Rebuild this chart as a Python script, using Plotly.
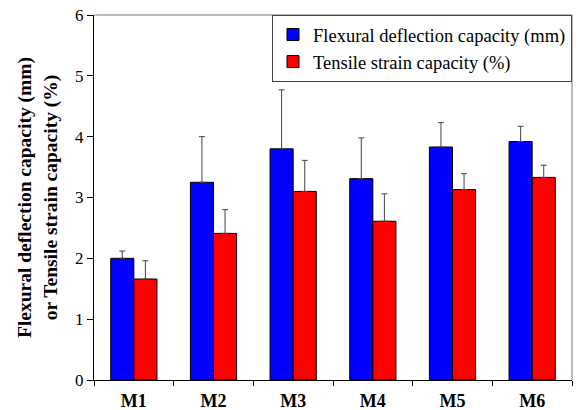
import plotly.graph_objects as go

categories = ["M1", "M2", "M3", "M4", "M5", "M6"]
flexural = [2.00, 3.25, 3.80, 3.31, 3.83, 3.92]
flexural_err = [0.12, 0.75, 0.97, 0.67, 0.40, 0.25]
tensile = [1.66, 2.41, 3.10, 2.61, 3.13, 3.33]
tensile_err = [0.30, 0.39, 0.51, 0.45, 0.26, 0.20]
y_ticks = [0, 1, 2, 3, 4, 5, 6]

FONT = "Liberation Serif, Times New Roman, serif"

fig = go.Figure()
fig.add_trace(go.Bar(
    x=categories, y=flexural, name="Flexural deflection capacity (mm)",
    marker=dict(color="#0000FF", line=dict(color="black", width=1)),
    error_y=dict(type="data", array=flexural_err, arrayminus=[0]*6, symmetric=False,
                 color="#444444", thickness=1, width=3),
))
fig.add_trace(go.Bar(
    x=categories, y=tensile, name="Tensile strain capacity (%)",
    marker=dict(color="#FF0000", line=dict(color="black", width=1)),
    error_y=dict(type="data", array=tensile_err, arrayminus=[0]*6, symmetric=False,
                 color="#444444", thickness=1, width=3),
))

fig.update_layout(
    width=578, height=410,
    margin=dict(l=94, r=6, t=15, b=30, autoexpand=False),
    paper_bgcolor="white", plot_bgcolor="white",
    barmode="group", bargap=0.42, bargroupgap=0,
    font=dict(family=FONT, size=16, color="black"),
    legend=dict(x=1, y=1, xanchor="right", yanchor="top",
                bgcolor="white", bordercolor="#444444", borderwidth=1,
                font=dict(family=FONT, size=18.5), tracegroupgap=0,
                itemwidth=30),
    shapes=[
        dict(type="line", xref="paper", yref="paper", x0=0, x1=1, y0=1, y1=1,
             line=dict(color="#777777", width=1)),
        dict(type="line", xref="paper", yref="paper", x0=1, x1=1, y0=0, y1=1,
             line=dict(color="#777777", width=1)),
    ],
)
fig.update_xaxes(
    showline=True, linecolor="black", linewidth=1, automargin=False,
    ticks="outside", ticklen=5, tickcolor="black", tickson="boundaries",
    tickfont=dict(family=FONT, size=18, weight="bold"),
    ticklabelstandoff=4, showgrid=False,
)
fig.update_yaxes(
    range=[0, 6], tickvals=y_ticks, showline=True, linecolor="black", linewidth=1,
    automargin=False,
    ticks="outside", ticklen=6, tickcolor="black", showgrid=False, zeroline=False,
    tickfont=dict(family=FONT, size=17),
    title=dict(text="<b>Flexural deflection capacity (mm)<br>or Tensile strain capacity (%)</b>",
               font=dict(family=FONT, size=19.5), standoff=12),
)

fig.write_html("out.html")
